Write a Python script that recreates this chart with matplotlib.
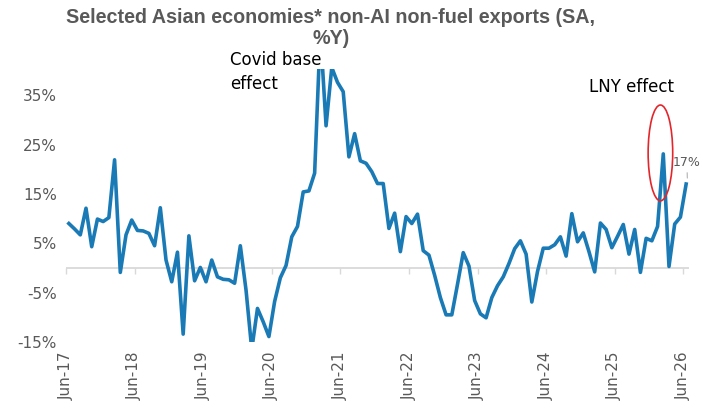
import numpy as np
import pandas as pd
import matplotlib
matplotlib.use('Agg')
import matplotlib.pyplot as plt
from matplotlib.patches import Ellipse

# monthly %Y, Jun-17 .. Jun-26
values = [9.0, 7.9, 6.7, 12.1, 4.3, 9.9, 9.4, 10.2, 21.9, -0.9,
          6.7, 9.7, 7.6, 7.5, 7.0, 4.5, 12.2, 1.6, -2.8, 3.2,
          -13.4, 6.5, -2.6, 0.1, -2.8, 1.6, -1.8, -2.3, -2.4, -3.1,
          4.5, -4.5, -16.5, -8.2, -10.9, -13.9, -6.8, -2.0, 0.5, 6.3,
          8.4, 15.4, 15.6, 19.2, 48.0, 28.8, 40.6, 37.6, 35.7, 22.5,
          27.2, 21.7, 21.2, 19.5, 17.1, 17.1, 8.0, 11.1, 3.3, 10.4,
          9.0, 10.9, 3.5, 2.6, -1.5, -6.0, -9.5, -9.5, -3.3, 3.1,
          0.4, -6.6, -9.3, -10.1, -6.0, -3.6, -1.8, 0.9, 3.9, 5.5,
          2.8, -6.9, -0.7, 4.0, 4.0, 4.7, 6.3, 2.4, 11.0, 5.3,
          7.1, 3.3, -0.8, 9.1, 7.8, 4.1, 6.4, 8.8, 2.8, 7.8,
          -0.9, 6.0, 5.5, 8.4, 23.1, 0.3, 8.9, 10.3, 17.0]
months = pd.period_range('2017-06', periods=len(values), freq='M')

yticks = [-15, -5, 5, 15, 25, 35]
ytick_labels = ['%d%%' % v for v in yticks]
tick_months = [i for i, m in enumerate(months) if m.month == 6]
xtick_labels = [months[i].strftime('%b-%y') for i in tick_months]

last_label = '17%'
title = 'Selected Asian economies* non-AI non-fuel exports (SA,\n%Y)'

blue = '#1a7ab5'
grey_txt = '#595959'
grey_line = '#d9d9d9'
ymin, ymax = -15, 40.4

fig = plt.figure(figsize=(7.03, 4.08), dpi=100)
ax = fig.add_axes([66 / 703, 1 - 342 / 408, (689 - 66) / 703, (342 - 68.5) / 408])

# points sit in the middle of each month, ticks at month starts
x = np.arange(len(values)) + 0.5
ax.axhline(0, color=grey_line, lw=1.3, zorder=0)
ax.plot(x, values, color=blue, lw=2.6, solid_joinstyle='round', zorder=3)

ax.set_xlim(0, len(values))
ax.set_ylim(ymin, ymax)
for s in ax.spines.values():
    s.set_visible(False)

ax.set_yticks(yticks)
ax.set_yticklabels(ytick_labels)
ax.set_xticks(tick_months)
ax.set_xticklabels(xtick_labels, rotation=90)
ax.tick_params(axis='both', length=0, colors=grey_txt, labelsize=11)
ax.tick_params(axis='y', pad=6.5)
ax.tick_params(axis='x', pad=7)

# small tick marks on the zero line
sec = ax.secondary_xaxis((0 - ymin) / (ymax - ymin))
sec.set_xticks(tick_months)
sec.set_xticklabels([])
sec.tick_params(length=4, width=1, color=grey_line)
sec.spines['bottom'].set_visible(False)

# annotations
ax.text((230 - 66) / 5.716, (268 - 51) / 4.94, 'Covid base\neffect', fontsize=12,
        color='black', ha='left', va='top', linespacing=1.45, clip_on=False)
ax.text((589 - 66) / 5.716, (268 - 78) / 4.94, 'LNY effect', fontsize=12,
        color='black', ha='left', va='top', clip_on=False)
ax.add_patch(Ellipse((104.0, 23.3), 4.3, 19.4, fill=False, edgecolor='#e3262b',
                     lw=1.2, zorder=4, clip_on=False))
ax.annotate(last_label, xy=(x[-1] + 0.2, values[-1] + 1.2),
            xytext=((673 - 66) / 5.716, (268 - 162) / 4.94),
            fontsize=9, color=grey_txt, ha='left', va='center',
            arrowprops=dict(arrowstyle='-', color='#a6a6a6', lw=0.7, shrinkA=1, shrinkB=0),
            annotation_clip=False)

fig.text(331 / 703, 1 - 8 / 408, title, ha='center', va='top', fontsize=14.2,
         fontweight='bold', color=grey_txt, linespacing=1.12,
         family=['Liberation Sans Narrow', 'Liberation Sans', 'DejaVu Sans'])

fig.savefig('out.png', dpi=100)
